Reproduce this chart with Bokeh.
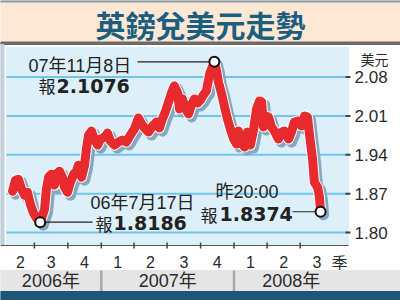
import numpy as np
import pandas as pd
from bokeh.plotting import figure
from bokeh.models import Range1d
from bokeh.core.properties import value
from bokeh.embed import file_html
from bokeh.resources import INLINE

# ------------------------------------------------------------------ data
title_text = "英鎊兌美元走勢"
value_unit = "美元"
quarter_unit = "季"
latest_label = "昨20:00"
report_word = "報"

dates = [
    "2006-05-02", "2006-05-10", "2006-05-18", "2006-05-27", "2006-06-04", "2006-06-12",
    "2006-06-20", "2006-06-29", "2006-07-07", "2006-07-12", "2006-07-17", "2006-07-29",
    "2006-08-03", "2006-08-09", "2006-08-17", "2006-08-25", "2006-08-31", "2006-09-08",
    "2006-09-16", "2006-09-22", "2006-09-30", "2006-10-08", "2006-10-17", "2006-10-25",
    "2006-10-30", "2006-11-08", "2006-11-16", "2006-11-21", "2006-11-27", "2006-12-05",
    "2006-12-13", "2006-12-22", "2006-12-30",
    "2007-01-10", "2007-01-18", "2007-01-26", "2007-02-06", "2007-02-17", "2007-02-28",
    "2007-03-11", "2007-03-22", "2007-04-02", "2007-04-13", "2007-04-22", "2007-04-30",
    "2007-05-11", "2007-05-22", "2007-06-02", "2007-06-10", "2007-06-18", "2007-06-27",
    "2007-07-05", "2007-07-13", "2007-07-21", "2007-07-30", "2007-08-04", "2007-08-12",
    "2007-08-21", "2007-08-29", "2007-09-06", "2007-09-14", "2007-09-23", "2007-10-01",
    "2007-10-09", "2007-10-17", "2007-10-26", "2007-11-08", "2007-11-14", "2007-11-19",
    "2007-11-28", "2007-12-06", "2007-12-14", "2007-12-22", "2007-12-31",
    "2008-01-08", "2008-01-13", "2008-01-22", "2008-01-30", "2008-02-07", "2008-02-15",
    "2008-02-24", "2008-03-03", "2008-03-11", "2008-03-17", "2008-03-22", "2008-03-28",
    "2008-04-05", "2008-04-13", "2008-04-21", "2008-05-02", "2008-05-11", "2008-05-19",
    "2008-05-30", "2008-06-07", "2008-06-15", "2008-06-26", "2008-07-05", "2008-07-13",
    "2008-07-21", "2008-07-27", "2008-08-04", "2008-08-09", "2008-08-18", "2008-08-23",
    "2008-08-26",
]
rates = [
    1.8743, 1.8942, 1.8960, 1.8779, 1.8671, 1.8725, 1.8508, 1.8345, 1.8255, 1.8237, 1.8186,
    1.8418, 1.8779, 1.8996, 1.9050, 1.8852, 1.9050, 1.9105, 1.8996, 1.8816, 1.8725, 1.8906,
    1.9050, 1.9105, 1.9213, 1.8996, 1.9213, 1.9503, 1.9756, 1.9828, 1.9684, 1.9575, 1.9684,
    1.9720, 1.9792, 1.9647, 1.9575, 1.9629, 1.9665, 1.9629, 1.9756, 1.9865, 2.0064, 1.9955,
    1.9883, 1.9810, 1.9919, 1.9991, 1.9883, 2.0046, 2.0190, 2.0353, 2.0516, 2.0643, 2.0516,
    2.0226, 2.0407, 2.0226, 2.0136, 2.0299, 2.0407, 2.0335, 2.0389, 2.0480, 2.0552, 2.0860,
    2.1076, 2.0914, 2.0715, 2.0498, 2.0263, 2.0046, 1.9865, 1.9684,
    1.9593, 1.9828, 1.9611, 1.9539, 1.9810, 1.9575, 1.9865, 2.0226, 2.0371, 2.0353, 1.9901,
    2.0100, 2.0082, 1.9901, 1.9828, 1.9684, 1.9810, 1.9828, 1.9684, 1.9810, 1.9991, 2.0010,
    1.9919, 2.0100, 2.0082, 1.9738, 1.9322, 1.8906, 1.8816, 1.8635, 1.8374,
]

value_ticks = [1.80, 1.87, 1.94, 2.01, 2.08]
value_tick_labels = ["1.80", "1.87", "1.94", "2.01", "2.08"]

quarter_bounds = ["2006-04-01", "2006-07-01", "2006-10-01", "2007-01-01", "2007-04-01",
                  "2007-07-01", "2007-10-01", "2008-01-01", "2008-04-01", "2008-07-01",
                  "2008-10-01"]
quarter_labels = ["2", "3", "4", "1", "2", "3", "4", "1", "2", "3"]

year_bounds = ["2007-01-01", "2008-01-01"]
year_labels = ["2006年", "2007年", "2008年"]

# ------------------------------------------------------------------ scales
W, H = 400, 300
EPOCH = pd.Timestamp("1970-01-01")
BASE = pd.Timestamp("2006-04-01")
DAY_MS = 86400000.0
DAYS_PER_PX = 2.75
PX0 = 0.79
VAL_REF, PY_REF, PX_PER_VAL = 2.08, 76.6, 555.0


def to_ms(t):
    return (pd.to_datetime(t) - EPOCH) / pd.Timedelta(milliseconds=1)


def X(px):
    return to_ms(BASE) + (px - PX0) * DAYS_PER_PX * DAY_MS


def Y(py):
    return VAL_REF - (py - PY_REF) / PX_PER_VAL


xs = np.asarray(to_ms(dates), dtype=float)
ys = np.asarray(rates, dtype=float)
qb = np.asarray(to_ms(quarter_bounds), dtype=float)
yb = np.asarray(to_ms(year_bounds), dtype=float)

p = figure(width=W, height=H, output_backend="svg", toolbar_location=None,
           x_range=Range1d(X(0), X(W)), y_range=Range1d(Y(H), Y(0)),
           x_axis_location=None, y_axis_location=None, min_border=0,
           outline_line_color=None, background_fill_color="white",
           border_fill_color="white")
p.xgrid.visible = False
p.ygrid.visible = False

CJK = "Noto Sans CJK TC"
LAT = "Liberation Sans, Noto Sans CJK TC"
INK = "#2a2a2a"

# title band
p.quad(left=[X(0)], right=[X(W)], top=[Y(0)], bottom=[Y(2.5)], color="#8e9ba4")
p.quad(left=[X(0)], right=[X(W)], top=[Y(2.5)], bottom=[Y(41.5)], color="#fce8d4")
p.quad(left=[X(0)], right=[X(W)], top=[Y(41.5)], bottom=[Y(44)], color="#6b6b6b")
p.text(x=[X(200)], y=[Y(23)], text=[title_text], text_align="center",
       text_baseline="middle", text_font=value(CJK), text_font_style="bold",
       text_font_size="30px", text_color="#1b5e80")

# plot panel
p.quad(left=[X(0)], right=[X(3.5)], top=[Y(44)], bottom=[Y(245)], color="#bfd0db")
p.quad(left=[X(6)], right=[X(348)], top=[Y(47)], bottom=[Y(245)], color="#ddf0fa")
p.segment(x0=[X(6)] * len(value_ticks), x1=[X(348)] * len(value_ticks),
          y0=value_ticks, y1=value_ticks, line_color="#72c5e9", line_width=2)
p.segment(x0=[X(0)], x1=[X(348)], y0=[Y(245)], y1=[Y(245)], line_color="#555555",
          line_width=1)

# value axis (right)
p.segment(x0=[X(345)] * len(value_ticks), x1=[X(350)] * len(value_ticks),
          y0=value_ticks, y1=value_ticks, line_color="#444444", line_width=2)
p.text(x=[X(354)] * len(value_ticks), y=value_ticks, text=value_tick_labels,
       text_align="left", text_baseline="middle", text_font=value("Liberation Sans"),
       text_font_size="17px", text_color=INK)
p.text(x=[X(360)], y=[Y(58)], text=[value_unit], text_align="left",
       text_baseline="middle", text_font=value(CJK), text_font_size="14px",
       text_color=INK)

# quarter axis (bottom)
inner = qb[1:-1]
p.segment(x0=inner, x1=inner, y0=[Y(242)] * len(inner), y1=[Y(248)] * len(inner),
          line_color="#444444", line_width=1.5)
q_left = qb[:-1].copy()
q_left[0] = X(6)
q_mid = (q_left + qb[1:]) / 2
p.text(x=q_mid, y=[Y(261)] * len(q_mid), text=quarter_labels, text_align="center",
       text_baseline="middle", text_font=value("Liberation Sans"),
       text_font_size="16px", text_color=INK)
p.text(x=[X(331)], y=[Y(261)], text=[quarter_unit], text_align="left",
       text_baseline="middle", text_font=value(CJK), text_font_size="16px",
       text_color=INK)

# year band
p.quad(left=[X(0)], right=[X(W)], top=[Y(270)], bottom=[Y(291)], color="#e5e5e5")
p.segment(x0=yb, x1=yb, y0=[Y(270)] * len(yb), y1=[Y(291)] * len(yb),
          line_color="#a8a8a8", line_width=2.5)
y_edges = np.concatenate([[X(0)], yb, [X(348)]])
y_mid = (y_edges[:-1] + y_edges[1:]) / 2
p.text(x=y_mid, y=[Y(280.5)] * len(y_mid), text=year_labels, text_align="center",
       text_baseline="middle", text_font=value(LAT), text_font_size="18px",
       text_color=INK)
p.quad(left=[X(0)], right=[X(W)], top=[Y(291)], bottom=[Y(H)], color="#1d5677")

# the series: shadow, white halo, red line
dx = X(3) - X(0)
dy = Y(3) - Y(0)
p.line(xs + dx, ys + dy, line_color="#86a7be", line_width=11, line_join="round",
       line_cap="round")
p.line(xs, ys, line_color="white", line_width=11, line_join="round", line_cap="round")
p.line(xs, ys, line_color="#e62a2e", line_width=9, line_join="round",
       line_cap="round")

# annotated points
i_hi = int(np.argmax(ys))
i_lo = int(np.argmin(ys))
i_last = len(ys) - 1
d_all = pd.to_datetime(dates)


def day_label(ts):
    return f"{ts.year % 100:02d}年{ts.month}月{ts.day}日"


p.segment(x0=[X(137), xs[i_lo], X(292)], x1=[xs[i_hi], X(92), xs[i_last]],
          y0=[ys[i_hi], ys[i_lo], ys[i_last]], y1=[ys[i_hi], ys[i_lo], ys[i_last]],
          line_color="#222222", line_width=1.2)
p.scatter(x=[xs[i_hi], xs[i_lo], xs[i_last]], y=[ys[i_hi], ys[i_lo], ys[i_last]],
          size=10, fill_color="white", line_color="#111111", line_width=2)

p.text(x=[X(28), X(90), X(215)], y=[Y(65), Y(202.5), Y(191.5)],
       text=[day_label(d_all[i_hi]), day_label(d_all[i_lo]), latest_label],
       text_align="left", text_baseline="middle", text_font=value(LAT),
       text_font_size="18px", text_color="#222222")
p.text(x=[X(38), X(95), X(200)], y=[Y(85), Y(222.5), Y(213.5)],
       text=[report_word] * 3, text_align="left", text_baseline="middle",
       text_font=value(CJK), text_font_size="17px", text_color="#222222")
p.text(x=[X(56), X(113), X(219)], y=[Y(85), Y(222.5), Y(213.5)],
       text=[f"{ys[i_hi]:.4f}", f"{ys[i_lo]:.4f}", f"{ys[i_last]:.4f}"],
       text_align="left", text_baseline="middle", text_font=value("DejaVu Sans"),
       text_font_style="bold", text_font_size="19px", text_color="#222222")

open("out.html", "w").write(file_html(p, INLINE))
